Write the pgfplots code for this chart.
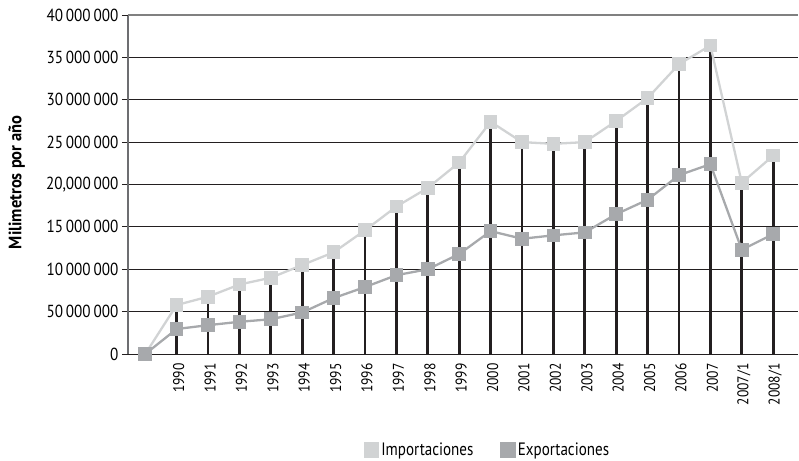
\documentclass[border=0pt]{standalone}
\usepackage{fontspec}
\setmainfont{PT Sans}[FakeStretch=0.84]
\newfontfamily\numfont{PT Sans}[FakeStretch=0.87]
\newfontfamily\labfont{PT Sans}[FakeStretch=0.92]
\usepackage{pgfplots}
\usepackage{pgfplotstable}
\pgfplotsset{compat=1.18}
\definecolor{impcol}{HTML}{D1D3D4}
\definecolor{expcol}{HTML}{A7A9AC}
\definecolor{darkline}{HTML}{231F20}
\definecolor{axisgray}{HTML}{6D6E71}

\pgfplotstableread{
x imp exp
0 0 0
1 5780000 2950000
2 6760000 3400000
3 8200000 3800000
4 9000000 4100000
5 10500000 4900000
6 12000000 6600000
7 14600000 7900000
8 17400000 9300000
9 19600000 10000000
10 22600000 11800000
11 27400000 14500000
12 25000000 13600000
13 24800000 14000000
14 25000000 14350000
15 27500000 16500000
16 30200000 18200000
17 34200000 21100000
18 36400000 22400000
19 20200000 12300000
20 23400000 14150000
}\datatable

\begin{document}
\begin{tikzpicture}
\begin{axis}[
  at={(0,0)}, anchor=south west,
  scale only axis, width=670bp, height=339bp,
  xmin=-0.55, xmax=20.79, ymin=0, ymax=40000000,
  axis x line*=bottom, axis y line*=left,
  clip=false,
  scaled y ticks=false,
  ytick={0,5000000,10000000,15000000,20000000,25000000,30000000,35000000},
  yticklabels={0,50\,000\,000,10\,000\,000,15\,000\,000,{20,000\,000},25\,000\,000,30\,000\,000,35\,000\,000},
  extra y ticks={40000000},
  extra y tick labels={40\,000\,000},
  extra y tick style={grid style={draw=gray, line width=1.6bp}},
  ymajorgrids,
  grid style={draw=darkline, line width=0.8bp},
  y axis line style={draw=axisgray, line width=1.6bp},
  x axis line style={draw=darkline, line width=1bp},
  tick align=outside,
  major tick length=6bp,
  ytick style={draw=darkline, line width=0.8bp},
  xtick={1,...,20},
  xticklabels={1990,1991,1992,1993,1994,1995,1996,1997,1998,1999,2000,2001,2002,2003,2004,2005,2006,2007,2007/1,2008/1},
  xtick style={draw=none},
  xticklabel style={rotate=90, anchor=east, yshift=-2bp, font=\numfont\fontsize{15.6}{15.6}\selectfont},
  yticklabel style={font=\numfont\fontsize{17.5}{17.5}\selectfont},
  ylabel={Milimetros por año},
  ylabel style={font=\labfont\bfseries\fontsize{18}{18}\selectfont, at={(axis description cs:-0.166,0.507)}, anchor=center},
  legend columns=2,
  legend style={draw=none, fill=none, at={(axis description cs:0.352,-0.283)}, anchor=west,
    font=\fontsize{18}{18}\selectfont, inner sep=0pt,
    nodes={inner sep=2bp},
    /tikz/every even column/.append style={column sep=25bp}},
]
\addplot[ycomb, no marks, draw=darkline, line width=2.8bp, forget plot] table[x=x, y=imp] {\datatable};
\addplot[color=impcol, line width=2.3bp, mark=square*, mark size=6.3bp,
  mark options={fill=impcol, draw=impcol, line width=0pt},
  legend image code/.code={\fill[impcol] (0bp,-6.5bp) rectangle (13bp,6.5bp);}]
  table[x=x, y=imp] {\datatable};
\addlegendentry{Importaciones}
\addplot[color=expcol, line width=2.3bp, mark=square*, mark size=6.3bp,
  mark options={fill=expcol, draw=expcol, line width=0pt},
  legend image code/.code={\fill[expcol] (0bp,-6.5bp) rectangle (13bp,6.5bp);}]
  table[x=x, y=exp] {\datatable};
\addlegendentry{Exportaciones}
\end{axis}
\pgfresetboundingbox
\path[use as bounding box] (-128bp,-107bp) rectangle (671bp,354bp);
\end{tikzpicture}
\end{document}
